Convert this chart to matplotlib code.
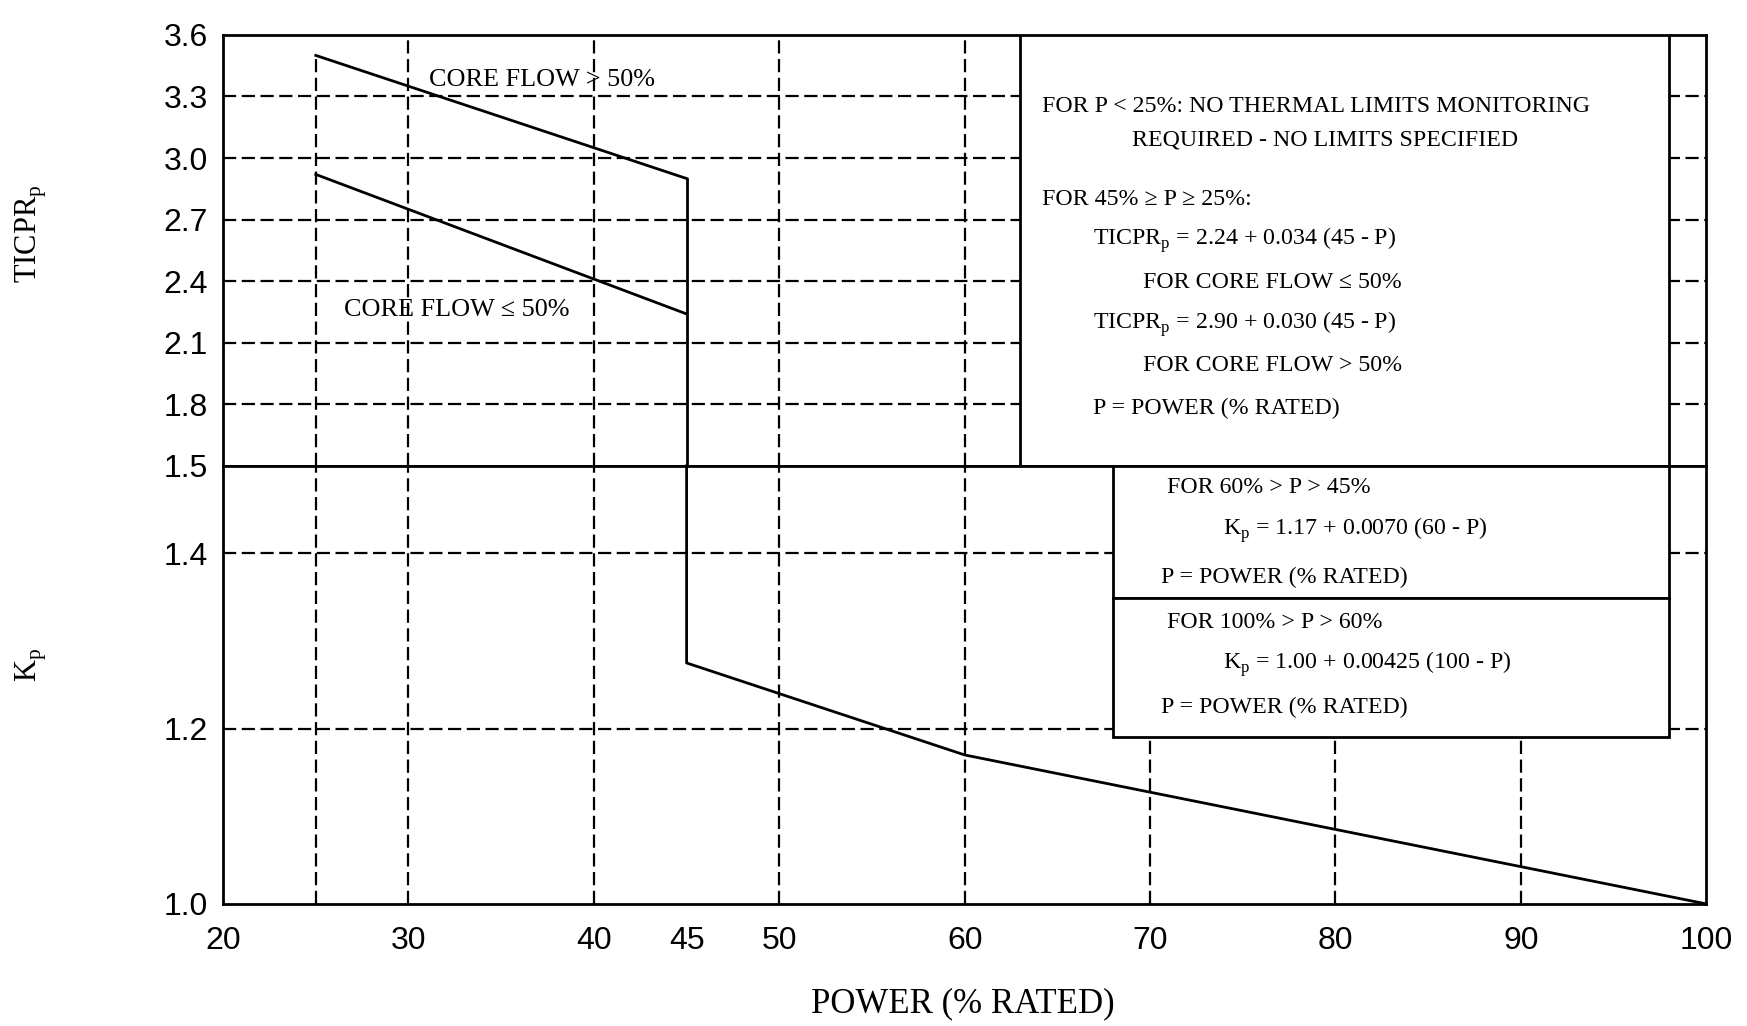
import matplotlib
matplotlib.use("Agg")
import matplotlib.pyplot as plt
from matplotlib.patches import Rectangle

# ---------------- data ----------------
power_ticpr = [25, 45]
ticpr_flow_high = [3.50, 2.90]   # core flow > 50%
ticpr_flow_low = [2.92, 2.24]    # core flow <= 50%
power_kp = [45, 60, 100]
kp_values = [1.275, 1.17, 1.00]

x_ticks = [20, 30, 40, 45, 50, 60, 70, 80, 90, 100]
ticpr_ticks = [1.5, 1.8, 2.1, 2.4, 2.7, 3.0, 3.3, 3.6]
kp_ticks = [1.0, 1.2, 1.4]
grid_x_upper = [30, 40, 50, 60, 70, 80, 90]
grid_x_lower = [25, 30, 40, 50, 60, 70, 80, 90]
grid_y_upper = [1.8, 2.1, 2.4, 2.7, 3.0, 3.3]
grid_y_lower = [1.2, 1.4]

plt.rcParams['lines.scale_dashes'] = False
SANS = ['Liberation Sans', 'DejaVu Sans']
SERIF = ['Liberation Serif', 'DejaVu Serif']
plt.rcParams['mathtext.fontset'] = 'custom'
plt.rcParams['mathtext.rm'] = 'Liberation Serif'

fig = plt.figure(figsize=(17.47, 10.26), dpi=100)
left, width = 0.1277, 0.849
ax_up = fig.add_axes([left, 0.546, width, 0.420])
ax_lo = fig.add_axes([left, 0.119, width, 0.427])

dash = (0, (9.5, 4))
GLW = 1.6
LW = 2.0
TICK_FS = 23

for ax in (ax_up, ax_lo):
    ax.set_xlim(20, 100)
    for s in ax.spines.values():
        s.set_linewidth(LW)
    ax.tick_params(length=0, labelsize=TICK_FS)

ax_up.set_ylim(1.5, 3.6)
ax_lo.set_ylim(1.0, 1.5)

# ---- upper panel grid ----
ax_up.hlines(grid_y_upper, 20, 100, colors='black', linestyles=dash, lw=GLW, zorder=1)
ax_up.vlines(grid_x_upper, 1.5, 3.6, colors='black', linestyles=dash, lw=GLW, zorder=1)
ax_up.vlines(power_ticpr[0], 1.5, ticpr_flow_high[0], colors='black', linestyles=dash, lw=GLW, zorder=1)

# ---- lower panel grid ----
ax_lo.hlines(grid_y_lower, 20, 100, colors='black', linestyles=dash, lw=GLW, zorder=1)
ax_lo.vlines(grid_x_lower, 1.0, 1.5, colors='black', linestyles=dash, lw=GLW, zorder=1)

# ---- curves ----
ax_up.plot(power_ticpr, ticpr_flow_high, color='black', lw=LW, zorder=3)
ax_up.plot(power_ticpr, ticpr_flow_low, color='black', lw=LW, zorder=3)
ax_up.plot([power_ticpr[-1], power_ticpr[-1]], [ticpr_flow_high[-1], 1.5],
           color='black', lw=LW, zorder=3, clip_on=False)
ax_lo.plot([power_kp[0]] + power_kp, [1.5] + kp_values, color='black', lw=LW,
           zorder=3, clip_on=False)

# ---- boxes ----
ax_up.add_patch(Rectangle((63.0, 1.5), 35.0, 2.1, facecolor='white',
                          edgecolor='black', lw=LW, zorder=4))
ax_lo.add_patch(Rectangle((68.0, 1.349), 30.0, 0.151, facecolor='white',
                          edgecolor='black', lw=LW, zorder=4))
ax_lo.add_patch(Rectangle((68.0, 1.19), 30.0, 0.159, facecolor='white',
                          edgecolor='black', lw=LW, zorder=4))

tk = dict(family=SERIF, fontsize=17.2, va='center', ha='left', zorder=5)
ax_up.text(64.15, 3.25, "FOR P < 25%: NO THERMAL LIMITS MONITORING", **tk)
ax_up.text(69.0, 3.09, "REQUIRED - NO LIMITS SPECIFIED", **tk)
ax_up.text(64.15, 2.80, "FOR 45% \u2265 P \u2265 25%:", **tk)
ax_up.text(66.9, 2.60, r"TICPR$_\mathregular{p}$ = 2.24 + 0.034 (45 - P)", **tk)
ax_up.text(69.6, 2.395, "FOR CORE FLOW \u2264 50%", **tk)
ax_up.text(66.9, 2.19, r"TICPR$_\mathregular{p}$ = 2.90 + 0.030 (45 - P)", **tk)
ax_up.text(69.6, 1.99, "FOR CORE FLOW > 50%", **tk)
ax_up.text(66.9, 1.78, "P = POWER (% RATED)", **tk)

ax_lo.text(70.9, 1.475, "FOR 60% > P > 45%", **tk)
ax_lo.text(73.95, 1.427, r"K$_\mathregular{p}$ = 1.17 + 0.0070 (60 - P)", **tk)
ax_lo.text(70.6, 1.373, "P = POWER (% RATED)", **tk)
ax_lo.text(70.9, 1.321, "FOR 100% > P > 60%", **tk)
ax_lo.text(73.95, 1.274, r"K$_\mathregular{p}$ = 1.00 + 0.00425 (100 - P)", **tk)
ax_lo.text(70.6, 1.224, "P = POWER (% RATED)", **tk)

# curve labels
ck = dict(family=SERIF, fontsize=18.8, va='center', ha='left', zorder=5)
ax_up.text(31.1, 3.38, "CORE FLOW > 50%", **ck)
ax_up.text(26.5, 2.26, "CORE FLOW \u2264 50%", **ck)

# ---- ticks ----
ax_up.set_xticks(x_ticks)
ax_up.tick_params(axis='x', labelbottom=False)
ax_up.set_yticks(ticpr_ticks)
ax_up.set_yticklabels([f"{v:.1f}" for v in ticpr_ticks], family=SANS, fontsize=TICK_FS)
ax_up.tick_params(axis='y', pad=11)

ax_lo.set_xticks(x_ticks)
ax_lo.set_xticklabels([str(v) for v in x_ticks], family=SANS, fontsize=TICK_FS)
ax_lo.set_yticks(kp_ticks)
ax_lo.set_yticklabels([f"{v:.1f}" for v in kp_ticks], family=SANS, fontsize=TICK_FS)
ax_lo.tick_params(axis='y', pad=11)
ax_lo.tick_params(axis='x', pad=16)

# ---- axis labels ----
fig.text(0.551, 0.022, "POWER (% RATED)", family=SERIF, fontsize=25,
         ha='center', va='center')
fig.text(0.018, 0.772, r"TICPR$_\mathregular{p}$", family=SERIF, fontsize=22,
         rotation=90, ha='center', va='center')
fig.text(0.018, 0.352, r"K$_\mathregular{p}$", family=SERIF, fontsize=22,
         rotation=90, ha='center', va='center')

fig.savefig("out.png", dpi=100, facecolor='white')
